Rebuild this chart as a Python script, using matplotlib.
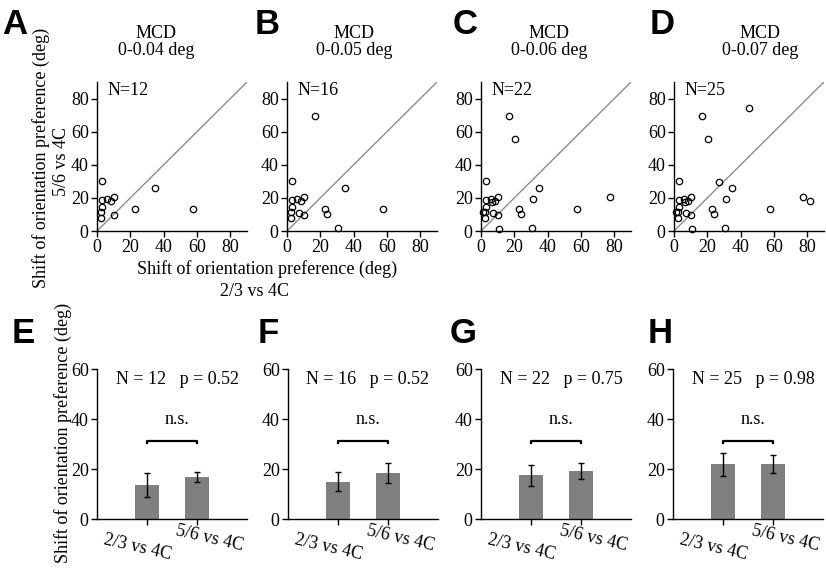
import matplotlib
matplotlib.use("Agg")
import matplotlib.pyplot as plt

plt.rcParams["font.family"] = ["Liberation Serif", "DejaVu Serif"]
plt.rcParams["font.size"] = 12.5

# scatter points (x: 2/3 vs 4C, y: 5/6 vs 4C); each panel shows the first n points
pts_x = [3.2, 3.2, 6.0, 8.2, 10.4, 3.0, 2.6, 2.6, 10.4, 22.5, 34.5, 57.5,
         7.4, 16.5, 23.8, 30.5,
         20.3, 31.0, 10.5, 77.5, 1.3, 6.5,
         45.0, 26.8, 81.5]
pts_y = [30.2, 18.5, 19.5, 18.0, 20.3, 14.5, 11.3, 7.8, 9.6, 13.0, 26.2, 13.1,
         10.7, 69.2, 10.5, 1.6,
         55.6, 19.1, 1.2, 20.3, 11.6, 17.5,
         74.2, 29.7, 18.3]
n_cells = [12, 16, 22, 25]
mcd = ["0-0.04 deg", "0-0.05 deg", "0-0.06 deg", "0-0.07 deg"]

# bar charts
groups = ["2/3 vs 4C", "5/6 vs 4C"]
mean_23 = [13.6, 14.9, 17.6, 21.9]
err_23 = [4.9, 3.8, 4.2, 4.6]
mean_56 = [16.9, 18.5, 19.2, 22.0]
err_56 = [2.0, 3.9, 3.3, 3.7]
p_vals = ["0.52", "0.52", "0.75", "0.98"]

W, H = 826, 569
fig = plt.figure(figsize=(W / 100, H / 100), dpi=100)

top_left = [97, 287, 481, 674]
bot_left = [97, 288, 481, 673]
title_x = [156, 354, 549, 760]
letters_top = [("A", 2), ("B", 255), ("C", 453), ("D", 650)]
letters_bot = [("E", 12), ("F", 258), ("G", 450), ("H", 648)]


def style(ax):
    for s in ["top", "right"]:
        ax.spines[s].set_visible(False)
    for s in ["left", "bottom"]:
        ax.spines[s].set_linewidth(1.0)
    ax.tick_params(direction="out", length=4, width=1.0, pad=2, labelsize=13)


for i in range(4):
    ax = fig.add_axes([top_left[i] / W, 1 - 231 / H, 150 / W, 149 / H])
    n = n_cells[i]
    ax.plot([0, 90], [0, 90], color="0.55", lw=1.0)
    ax.plot(pts_x[:n], pts_y[:n], "o", mfc="none", mec="k", ms=4.6, mew=0.9,
            clip_on=False)
    ax.set_xlim(0, 90)
    ax.set_ylim(0, 90)
    ax.set_xticks([0, 20, 40, 60, 80])
    ax.set_yticks([0, 20, 40, 60, 80])
    style(ax)
    ax.text(0.07, 1.0, f"N={n}", transform=ax.transAxes, ha="left", va="top",
            fontsize=13)
    fig.text(title_x[i] / W, 1 - 42 / H, "MCD\n" + mcd[i], ha="center",
             va="center", fontsize=13, linespacing=1.05)

for i in range(4):
    ax = fig.add_axes([bot_left[i] / W, 1 - 519 / H, 150 / W, 150 / H])
    ax.bar([1, 2], [mean_23[i], mean_56[i]], width=0.47, color="#7f7f7f",
           yerr=[err_23[i], err_56[i]], capsize=2.5,
           error_kw=dict(ecolor="k", elinewidth=1.0, capthick=1.0))
    ax.set_xlim(0, 3)
    ax.set_ylim(0, 60)
    ax.set_xticks([1, 2])
    ax.set_xticklabels([])
    ax.set_yticks([0, 20, 40, 60])
    style(ax)
    ax.text(0.82, -0.187, groups[0], transform=ax.get_xaxis_transform(),
            rotation=-13, ha="center", va="center", rotation_mode="anchor",
            fontsize=13)
    ax.text(2.26, -0.127, groups[1], transform=ax.get_xaxis_transform(),
            rotation=-13, ha="center", va="center", rotation_mode="anchor",
            fontsize=13)
    ax.plot([1, 1, 2, 2], [30.3, 31.3, 31.3, 30.3], color="k", lw=1.6)
    ax.text(1.6, 39.6, "n.s.", ha="center", va="center", fontsize=13)
    ax.text(1.6, 55.6, f"N = {n_cells[i]}   p = {p_vals[i]}", ha="center",
            va="center", fontsize=13)

for lt, x in letters_top:
    fig.text(x / W, 1 - 8 / H, lt, ha="left", va="top", fontsize=25,
             fontweight="bold", family="Liberation Sans")
for lt, x in letters_bot:
    fig.text(x / W, 1 - 317 / H, lt, ha="left", va="top", fontsize=25,
             fontweight="bold", family="Liberation Sans")

fig.text(41 / W, 1 - 158 / H, "Shift of orientation preference (deg)",
         rotation=90, ha="center", va="center", fontsize=13)
fig.text(62 / W, 1 - 162 / H, "5/6 vs 4C", rotation=90, ha="center",
         va="center", fontsize=13)
fig.text(267 / W, 1 - 269 / H, "Shift of orientation preference (deg)",
         ha="center", va="center", fontsize=13)
fig.text(254 / W, 1 - 292 / H, "2/3 vs 4C", ha="center", va="center",
         fontsize=13)
fig.text(63 / W, 1 - 433 / H, "Shift of orientation preference (deg)",
         rotation=90, ha="center", va="center", fontsize=13)

fig.savefig("out.png", dpi=100)
